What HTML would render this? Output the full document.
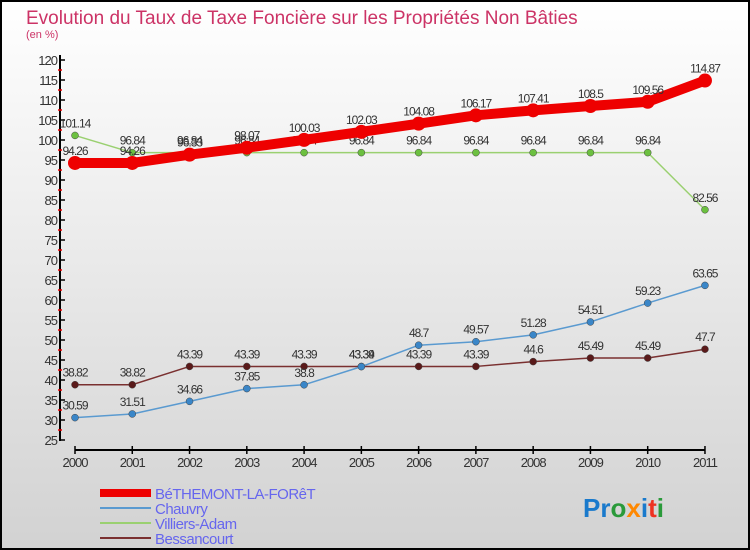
<!DOCTYPE html>
<html><head><meta charset="utf-8"><style>
body{margin:0;width:750px;height:550px;overflow:hidden;font-family:"Liberation Sans",sans-serif}
svg{display:block}
</style></head><body>
<svg id="c" width="750" height="550" xmlns="http://www.w3.org/2000/svg">
<defs><linearGradient id="bg" x1="0" y1="0" x2="0" y2="1"><stop offset="0" stop-color="#ffffff"/><stop offset="1" stop-color="#d2d2d2"/></linearGradient></defs>
<rect x="1" y="1" width="748" height="548" fill="url(#bg)" stroke="#000" stroke-width="2"/>
<text x="26" y="24" font-size="19" fill="#cc3366">Evolution du Taux de Taxe Foncière sur les Propriétés Non Bâties</text>
<text x="26" y="38" font-size="11" fill="#cc3366">(en %)</text>
<g id="axes"></g><g id="series"></g><g id="legend"></g>
<text x="583" y="517" font-size="26" font-weight="bold"><tspan fill="#1a7acc">Pr</tspan><tspan fill="#2a9a3a">o</tspan><tspan fill="#ff8800">x</tspan><tspan fill="#1a7acc">i</tspan><tspan fill="#ee3322">t</tspan><tspan fill="#2a9a3a">i</tspan></text>
</svg>
<script>
const years=["2000","2001","2002","2003","2004","2005","2006","2007","2008","2009","2010","2011"];
const yTicks=[25,30,35,40,45,50,55,60,65,70,75,80,85,90,95,100,105,110,115,120];
const bethemont=[94.26,94.26,96.33,98.07,100.03,102.03,104.08,106.17,107.41,108.5,109.56,114.87];
const chauvry=[30.59,31.51,34.66,37.85,38.8,43.34,48.7,49.57,51.28,54.51,59.23,63.65];
const villiers=[101.14,96.84,96.84,96.84,96.84,96.84,96.84,96.84,96.84,96.84,96.84,82.56];
const bessancourt=[38.82,38.82,43.39,43.39,43.39,43.39,43.39,43.39,44.6,45.49,45.49,47.7];
const seriesNames=["BéTHEMONT-LA-FORêT","Chauvry","Villiers-Adam","Bessancourt"];
const NS="http://www.w3.org/2000/svg";
const X=i=>75+i*57.27, Y=v=>60+(120-v)*4;
function mk(p,t,a){const e=document.createElementNS(NS,t);for(const k in a)e.setAttribute(k,a[k]);p.appendChild(e);return e;}
const ax=document.getElementById('axes');
let l=mk(ax,'line',{x1:60,y1:55,x2:60,y2:441,stroke:'#000','stroke-width':2});


yTicks.forEach(v=>{
 let t=mk(ax,'line',{x1:60,y1:Y(v),x2:65,y2:Y(v),stroke:'#000','stroke-width':1.5});
 
 
 if(v<120){let m=mk(ax,'line',{x1:58,y1:Y(v+2.5),x2:62,y2:Y(v+2.5),stroke:'#e00','stroke-width':1.5});
 
 }
 let tx=mk(ax,'text',{x:57,y:Y(v)+5,'font-size':13,'text-anchor':'end',fill:'#333','letter-spacing':'-1'});
 tx.textContent=v;
 
 
});
l=mk(ax,'line',{x1:75,y1:450,x2:X(11),y2:450,stroke:'#000','stroke-width':2});


years.forEach((y,i)=>{
 let t=mk(ax,'line',{x1:X(i),y1:446,x2:X(i),y2:454,stroke:'#000','stroke-width':1.5});
 
 
 let tx=mk(ax,'text',{x:X(i),y:467,'font-size':13,'text-anchor':'middle',fill:'#333','letter-spacing':'-1'});
 tx.textContent=y;
 
 
});
const sg=document.getElementById('series');
const defs=[[bessancourt,'#7a3030','#5a1a1a',1.5,3.5],[chauvry,'#5a9ad0','#3a86c8',1.5,3.5],[villiers,'#9ad070','#6cc040',1.5,3.5],[bethemont,'#ee0000','#ee0000',10,7]];
const names=['bessancourt','chauvry','villiers-adam','bethemont'];
defs.forEach((d,k)=>{
 const [vals,lc,pc,w,r]=d;
 let p=mk(sg,'polyline',{points:vals.map((v,i)=>X(i)+','+Y(v)).join(' '),fill:'none',stroke:lc,'stroke-width':w,'stroke-linejoin':'round'});
 
 
 vals.forEach((v,i)=>{
  let c=mk(sg,'circle',{cx:X(i),cy:Y(v),r:r,fill:pc,stroke:k==3?'none':'#444','stroke-width':0.5});
  
  
  let t=mk(sg,'text',{x:X(i),y:Y(v)-8,'font-size':12,'text-anchor':'middle',fill:'#333','letter-spacing':'-1'});
  t.textContent=v;
  
  
 });
});
const lg=document.getElementById('legend');
const lsty=[['#ee0000',8],['#5a9ad0',2],['#9ad070',2],['#7a3030',2]];
seriesNames.forEach((n,i)=>{
 const y=493+i*15;
 let ln=mk(lg,'line',{x1:100,y1:y,x2:151,y2:y,stroke:lsty[i][0],'stroke-width':lsty[i][1]});
 
 
 let t=mk(lg,'text',{x:155,y:y+6,'font-size':15,fill:'#6666ee','letter-spacing':'-0.5'});
 t.textContent=n;
 
 
});
</script>
</body></html>
